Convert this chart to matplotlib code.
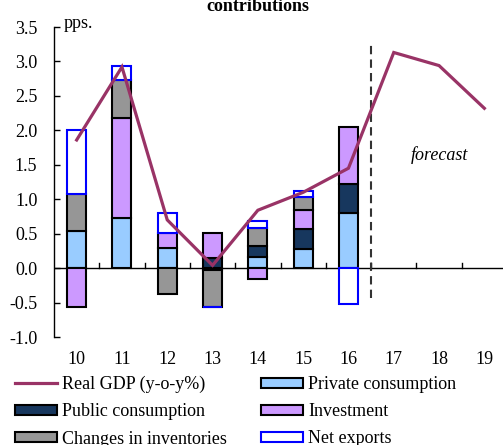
import matplotlib
matplotlib.use("Agg")
import matplotlib.pyplot as plt
import numpy as np
from matplotlib.patches import Patch
from matplotlib.lines import Line2D

plt.rcParams['font.family'] = ['Liberation Serif', 'DejaVu Serif']
plt.rcParams['axes.unicode_minus'] = False

years = ['10', '11', '12', '13', '14', '15', '16', '17', '18', '19']
gdp = [1.86, 2.92, 0.70, 0.04, 0.84, 1.10, 1.45, 3.13, 2.94, 2.32]
private = [0.54, 0.73, 0.29, -0.03, 0.16, 0.28, 0.80, 0, 0, 0]
public = [0.0, 0.0, 0.0, 0.15, 0.16, 0.29, 0.42, 0, 0, 0]
investment = [-0.57, 1.45, 0.22, 0.36, -0.16, 0.27, 0.83, 0, 0, 0]
inventories = [0.53, 0.55, -0.37, -0.53, 0.26, 0.19, 0.0, 0, 0, 0]
net_exports = [0.93, 0.20, 0.29, -0.01, 0.10, 0.09, -0.52, 0, 0, 0]

labels = ['Private consumption', 'Public consumption', 'Investment',
          'Changes in inventories', 'Net exports']
series = [private, public, investment, inventories, net_exports]
faces = ['#99CCFF', '#17375E', '#CC99FF', '#969696', 'white']
edges = ['black', 'black', 'black', 'black', '#0000FF']
line_color = '#993366'
FS = 13

fig = plt.figure(figsize=(5.03, 4.45), dpi=100)
ax = fig.add_axes([54 / 503, 108 / 445, 453 / 503, 310 / 445])

x = np.arange(len(years))
pos_base = np.zeros(len(years))
neg_base = np.zeros(len(years))
w = 0.42
for vals, fc, ec in zip(series, faces, edges):
    v = np.array(vals, dtype=float)
    pos = np.where(v > 0, v, 0)
    neg = np.where(v < 0, v, 0)
    mp = pos > 0
    mn = neg < 0
    ax.bar(x[mp], pos[mp], w, bottom=pos_base[mp], color=fc, edgecolor=ec,
           linewidth=1.5, zorder=3)
    ax.bar(x[mn], neg[mn], w, bottom=neg_base[mn], color=fc, edgecolor=ec,
           linewidth=1.5, zorder=3)
    pos_base += pos
    neg_base += neg

ax.plot(x, gdp, color=line_color, lw=2.3, zorder=5, solid_joinstyle='miter')

ax.axhline(0, color='black', lw=1.0, zorder=2)
for k in range(len(years) - 1):
    ax.plot([k + 0.5, k + 0.5], [0, 0.08], color='black', lw=1.0, zorder=2)

ax.plot([6.5, 6.5], [-0.44, 3.24], color='#333333', lw=1.5, ls=(0, (4, 2.5)), zorder=4)
ax.text(8.0, 1.64, 'forecast', style='italic', fontsize=FS, ha='center', va='center')

ax.set_xlim(-0.5, 9.5)
ax.set_ylim(-1.0, 3.5)
ax.set_yticks(np.arange(-1.0, 3.51, 0.5))
ax.set_yticklabels(['%.1f' % t for t in np.arange(-1.0, 3.51, 0.5)], fontsize=FS)
ax.set_xticks(x)
ax.set_xticklabels(years, fontsize=FS)
ax.tick_params(axis='x', length=0, pad=10)
ax.tick_params(axis='y', direction='in', length=4, width=1, pad=12)
for s in ['top', 'right', 'bottom']:
    ax.spines[s].set_visible(False)
ax.spines['left'].set_linewidth(1.0)
ax.patch.set_alpha(0)

fig.text(64 / 503, 1 - 23 / 445, 'pps.', fontsize=FS, ha='left', va='center')
fig.text(258 / 503, 1 - 11 / 445, 'contributions', fontsize=FS, ha='center',
         va='baseline', weight='bold')

h_gdp = Line2D([0], [0], color=line_color, lw=2.3)
hp = [Patch(facecolor=fc, edgecolor=ec, linewidth=1.5) for fc, ec in zip(faces, edges)]
handles = [h_gdp, hp[1], hp[3], hp[0], hp[2], hp[4]]
labs = ['Real GDP (y-o-y%)', labels[1], labels[3], labels[0], labels[2], labels[4]]
fig.legend(handles, labs, ncol=2, loc='upper left', bbox_to_anchor=(15 / 503, 1 - 376 / 445),
           frameon=False, fontsize=FS, borderpad=0, borderaxespad=0,
           handlelength=2.3, handleheight=0.5, handletextpad=0.3,
           columnspacing=1.9, labelspacing=0.56)

fig.savefig('out.png', dpi=100)
